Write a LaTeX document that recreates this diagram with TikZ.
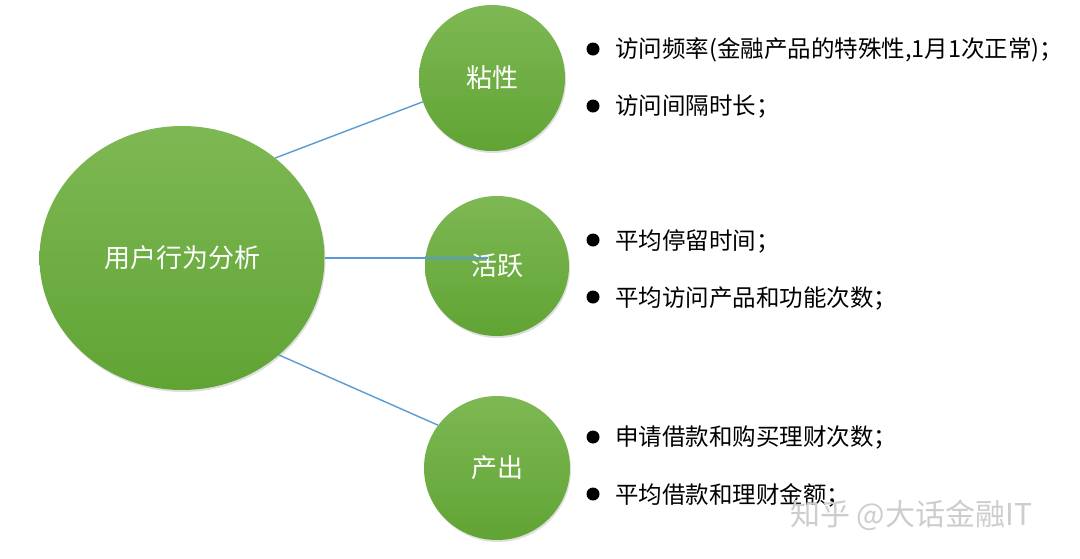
\documentclass[tikz,border=0pt]{standalone}
\usepackage{fontspec}
\setmainfont{Noto Sans CJK SC}
\usetikzlibrary{shapes.geometric,shadows}
\definecolor{gtop}{RGB}{126,184,84}
\definecolor{gbot}{RGB}{96,164,52}
\definecolor{lineblue}{RGB}{91,155,213}
\definecolor{wmark}{RGB}{205,205,205}
\begin{document}
\begin{tikzpicture}[x=1pt,y=-1pt,
 bubble/.style={ellipse, top color=gtop, bottom color=gbot, draw=none, text=white,
   font=\fontsize{26}{30}\selectfont,
   drop shadow={opacity=0.25,shadow xshift=1pt,shadow yshift=-2pt}},
 conn/.style={draw=lineblue, line width=1.4pt},
 item/.style={anchor=west, font=\fontsize{23.5}{27}\selectfont, inner sep=0pt},
 dot/.style={circle, fill=black, inner sep=0pt, minimum size=13pt}]
\useasboundingbox[fill=white] (0,0) rectangle (1080,558);
% bubbles
\node[bubble, minimum width=285pt, minimum height=264pt] (root) at (182,258) {用户行为分析};
\node[bubble, minimum width=146pt, minimum height=146pt] (nian) at (492,78) {粘性};
\node[bubble, minimum width=144pt, minimum height=140pt] (huo) at (497,266) {活跃};
\node[bubble, minimum width=146pt, minimum height=144pt] (chan) at (497,468) {产出};
% connectors
\coordinate (l2end) at (488,258);
\draw[conn] (root.47) -- (nian.199);
\draw[conn] (root.east) -- (l2end);
\draw[conn] (root.-45) -- (chan.144);
% bullets
\node[dot] (b1) at (593,49) {};
\node[item] (t1) at (615,50) {访问频率(金融产品的特殊性,1月1次正常)；};
\node[dot] (b2) at (593,106) {};
\node[item] (t2) at (615,107) {访问间隔时长；};
\node[dot] (b3) at (593,240) {};
\node[item] (t3) at (615,241) {平均停留时间；};
\node[dot] (b4) at (593,297) {};
\node[item] (t4) at (615,298) {平均访问产品和功能次数；};
\node[dot] (b5) at (593,437) {};
\node[item] (t5) at (615,438) {申请借款和购买理财次数；};
\node[dot] (b6) at (593,494) {};
\node[item] (t6) at (615,495) {平均借款和理财金额；};
% watermark
\node[text=wmark, font=\fontsize{30}{34}\selectfont, anchor=west, inner sep=0pt] (wm) at (790,515) {知乎 @大话金融IT};
\end{tikzpicture}
\end{document}
